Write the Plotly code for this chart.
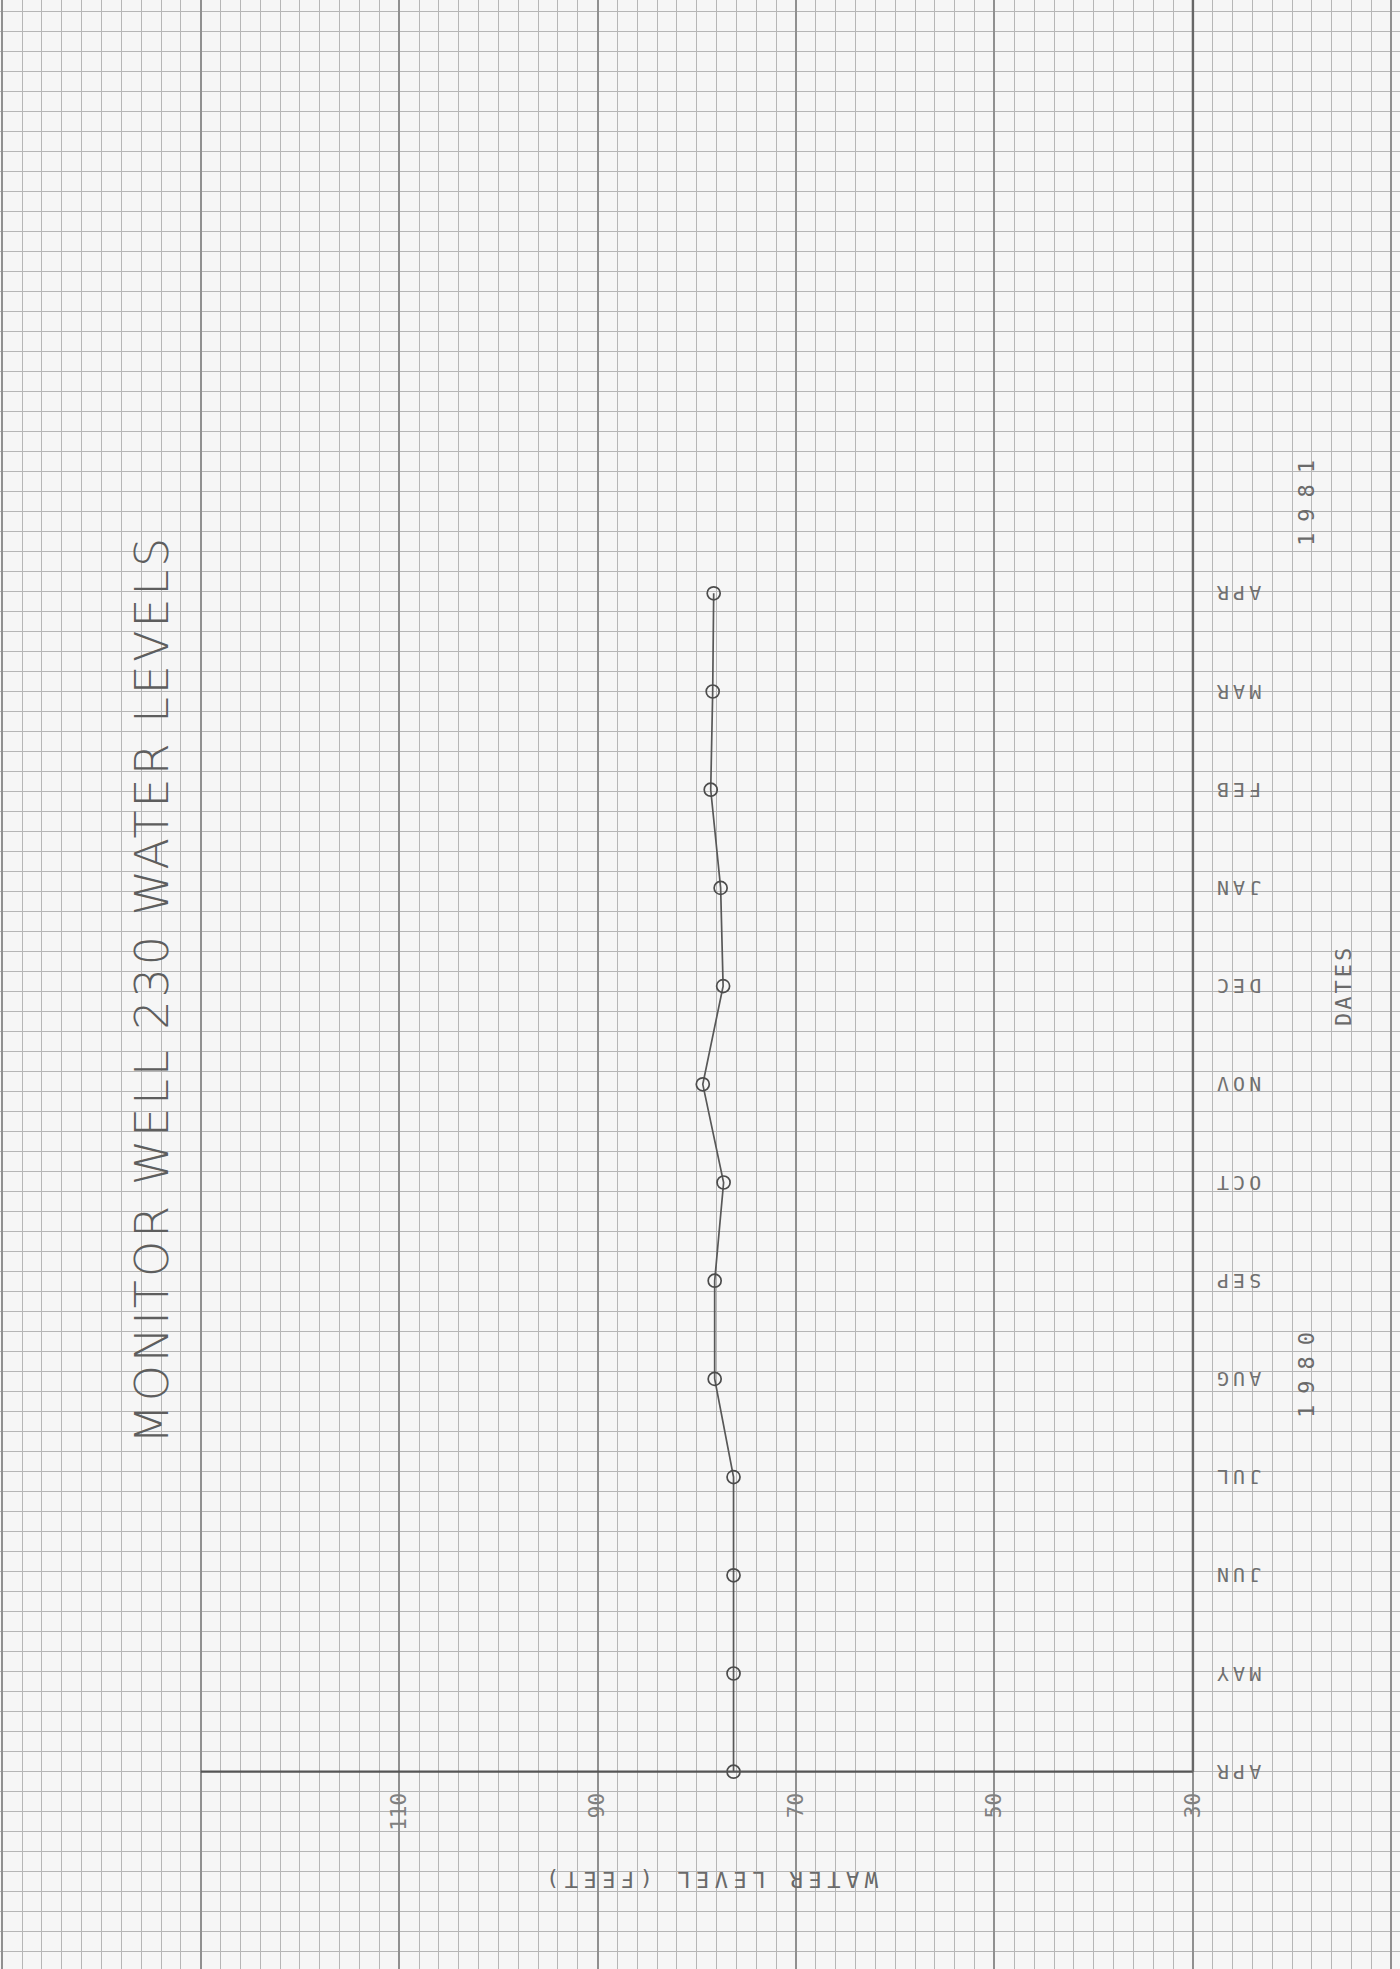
import plotly.graph_objects as go

# ---------------- data ----------------
months = ["APR", "MAY", "JUN", "JUL", "AUG", "SEP", "OCT",
          "NOV", "DEC", "JAN", "FEB", "MAR", "APR"]
water_level = [76.3, 76.3, 76.3, 76.3, 78.2, 78.2, 77.3,
               79.4, 77.35, 77.6, 78.6, 78.4, 78.3]
level_ticks = [110, 90, 70, 50, 30]
level_tick_labels = ["110", "90", "70", "50", "30"]
years = ["1980", "1981"]
title_text = "MONITOR WELL 230 WATER LEVELS"
level_title = "WATER LEVEL (FEET)"
date_title = "DATES"

month_idx = list(range(len(months)))

# ---------------- layout constants ----------------
W, H = 1400, 1969
X_RANGE = [150.23, 9.13]         # water level, reversed (grid paper spans page)
Y_RANGE = [-2.009, 18.042]       # months since APR 1980
CELL = 20 / 98.2                 # one grid-paper cell in months
AXIS_Y_PX = 1771.7

MINOR = "#b6b6b6"
MAJOR = "#909090"
INK = "#555555"
FONT = "DejaVu Sans Mono"

# heavy grid-paper lines every 20 ft; only the plotted scale is labelled
grid_major = list(range(150, 9, -20))
label_of = dict(zip(level_ticks, level_tick_labels))
grid_major_text = [label_of.get(v, "") for v in grid_major]


def spaced(t, px):
    return '<span style="letter-spacing:%spx">%s</span>' % (px, t)


fig = go.Figure()
fig.add_trace(go.Scatter(
    x=water_level, y=month_idx, mode="lines+markers",
    line=dict(color="#585858", width=1.7),
    marker=dict(symbol="circle-open", size=13, color="#4c4c4c",
                line=dict(width=1.7, color="#4c4c4c")),
    showlegend=False,
))

fig.update_layout(
    width=W, height=H,
    margin=dict(l=0, r=0, t=0, b=0),
    paper_bgcolor="#f6f6f6", plot_bgcolor="#f6f6f6",
    showlegend=False,
    xaxis=dict(range=X_RANGE, domain=[0, 1], anchor="free",
               position=1 - AXIS_Y_PX / H, side="bottom",
               tickmode="array", tickvals=grid_major, ticktext=grid_major_text,
               tickangle=-90, ticks="", ticklabelstandoff=16,
               tickfont=dict(family=FONT, size=21, color="#808080"),
               showgrid=True, gridcolor=MAJOR, gridwidth=2,
               zeroline=False, showline=False, fixedrange=True,
               minor=dict(showgrid=True, tickmode="linear", tick0=10, dtick=2,
                          gridcolor=MINOR, gridwidth=1.3)),
    yaxis=dict(range=Y_RANGE, domain=[0, 1], anchor="free",
               position=1213 / W, side="left",
               tickmode="array", tickvals=month_idx,
               ticktext=[spaced(m, 4) for m in months],
               tickangle=180, ticks="", ticklabelstandoff=0,
               ticklabelshift=6,
               tickfont=dict(family=FONT, size=20, color="#707070"),
               showgrid=False, zeroline=False, showline=False,
               fixedrange=True,
               minor=dict(showgrid=True, tickmode="linear", tick0=0,
                          dtick=CELL, gridcolor=MINOR, gridwidth=1.3)),
)

# axis lines of the original plot
fig.add_shape(type="line", xref="x", yref="y", x0=130, x1=30, y0=0, y1=0,
              line=dict(color=INK, width=2.2))
fig.add_shape(type="line", xref="x", yref="y", x0=30, x1=30, y0=0,
              y1=Y_RANGE[1], line=dict(color="#666666", width=2.4))


def label(text, x, y, size, angle, color="#6a6a6a", family=FONT, weight=None):
    f = dict(family=family, size=size, color=color)
    if weight:
        f["weight"] = weight
    fig.add_annotation(text=text, xref="paper", yref="paper",
                       x=x / W, y=1 - y / H, xanchor="center",
                       yanchor="middle", showarrow=False, textangle=angle,
                       font=f)


label(spaced(title_text, 3), 152, 990, 46, -90, "#5e5e5e",
      family="DejaVu Sans", weight=200)
label(spaced(date_title, 3), 1343, 986, 22, -90)
label(spaced(years[0], 11), 1306, 1370, 22, -90)
label(spaced(years[1], 11), 1306, 498, 22, -90)
label(spaced(level_title, 5.5), 710, 1880, 22, 180)

fig.write_html("out.html", config={"displayModeBar": False},
               post_script="document.body.style.margin='0';"
                           "document.body.style.overflow='hidden';")
